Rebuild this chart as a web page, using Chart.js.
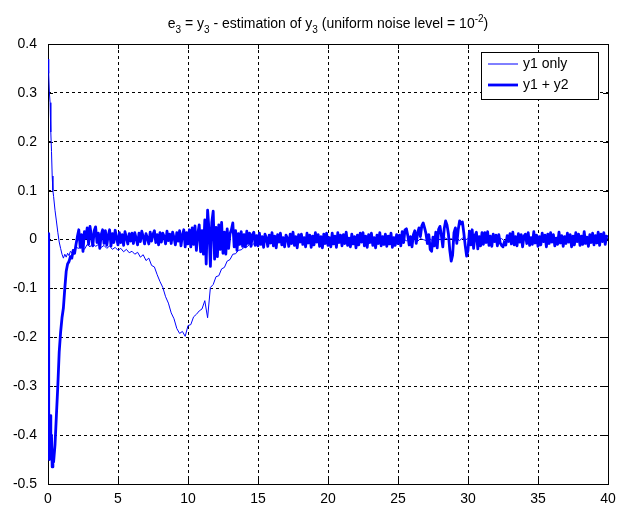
<!DOCTYPE html>
<html>
<head>
<meta charset="utf-8">
<title>e3 estimation error</title>
<script src="https://cdn.jsdelivr.net/npm/chart.js@4.4.1/dist/chart.umd.min.js"></script>
<style>
  html, body { margin: 0; padding: 0; background: #fff; }
  canvas { display: block; }
</style>
</head>
<body>
<canvas id="e3-chart" width="624" height="510"></canvas>
<script>
// sample times of the y1-only run (fine near the start, then every 0.2)
const xThin = [
    0, 0.05, 0.1, 0.15, 0.2, 0.25, 0.3, 0.35, 0.4,
    0.5, 0.6, 0.7, 0.8, 0.9, 1, 1.1, 1.2, 1.3, 1.4, 1.5, 1.6, 1.7, 1.8, 1.9, 2,
    2.2, 2.4, 2.6, 2.8, 3,
    3.2, 3.4, 3.6, 3.8, 4,
    4.2, 4.4, 4.6, 4.8, 5,
    5.2, 5.4, 5.6, 5.8, 6,
    6.2, 6.4, 6.6, 6.8, 7,
    7.2, 7.4, 7.6, 7.8, 8,
    8.2, 8.4, 8.6, 8.8, 9,
    9.2, 9.4, 9.6, 9.8, 10,
    10.2, 10.4, 10.6, 10.8, 11,
    11.2, 11.4, 11.6, 11.8, 12,
    12.2, 12.4, 12.6, 12.8, 13,
    13.2, 13.4, 13.6, 13.8, 14,
    14.2, 14.4, 14.6, 14.8, 15,
    15.2, 15.4, 15.6, 15.8, 16,
    16.2, 16.4, 16.6, 16.8, 17,
    17.2, 17.4, 17.6, 17.8, 18,
    18.2, 18.4, 18.6, 18.8, 19,
    19.2, 19.4, 19.6, 19.8, 20,
    20.2, 20.4, 20.6, 20.8, 21,
    21.2, 21.4, 21.6, 21.8, 22,
    22.2, 22.4, 22.6, 22.8, 23,
    23.2, 23.4, 23.6, 23.8, 24,
    24.2, 24.4, 24.6, 24.8, 25,
    25.2, 25.4, 25.6, 25.8, 26,
    26.2, 26.4, 26.6, 26.8, 27,
    27.2, 27.4, 27.6, 27.8, 28,
    28.2, 28.4, 28.6, 28.8, 29,
    29.2, 29.4, 29.6, 29.8, 30,
    30.2, 30.4, 30.6, 30.8, 31,
    31.2, 31.4, 31.6, 31.8, 32,
    32.2, 32.4, 32.6, 32.8, 33,
    33.2, 33.4, 33.6, 33.8, 34,
    34.2, 34.4, 34.6, 34.8, 35,
    35.2, 35.4, 35.6, 35.8, 36,
    36.2, 36.4, 36.6, 36.8, 37,
    37.2, 37.4, 37.6, 37.8, 38,
    38.2, 38.4, 38.6, 38.8, 39,
    39.2, 39.4, 39.6, 39.8, 40
];

// e3 with y1 only (thin line)
const y1Only = [
    0.369, 0.34, 0.3, 0.28, 0.22, 0.18, 0.13, 0.1, 0.088,
    0.06, 0.038, 0.015, -0.005, -0.018, -0.03, -0.038, -0.03, -0.036, -0.028, -0.033, -0.024, -0.027, -0.02, -0.024, -0.016,
    -0.018, -0.012, -0.02, -0.01, -0.015,
    -0.008, -0.014, -0.01, -0.016, -0.012,
    -0.018, -0.013, -0.02, -0.016, -0.022,
    -0.018, -0.025, -0.02, -0.027, -0.024,
    -0.03, -0.026, -0.036, -0.031, -0.043,
    -0.038, -0.053, -0.056, -0.072, -0.086,
    -0.098, -0.117, -0.13, -0.15, -0.162,
    -0.182, -0.192, -0.188, -0.198, -0.176,
    -0.174, -0.158, -0.153, -0.146, -0.142,
    -0.125, -0.16, -0.098, -0.092, -0.076,
    -0.074, -0.06, -0.057, -0.044, -0.041,
    -0.03, -0.029, -0.022, -0.021, -0.016,
    -0.015, -0.01, -0.011, -0.006, -0.007,
    -0.005, -0.002, -0.006, -0.001, -0.004,
    0, -0.003, -0.001, -0.004, 0.001,
    -0.002, 0.001, -0.004, 0, -0.003,
    0.001, -0.003, 0.002, -0.004, -0.001,
    -0.003, 0.002, -0.002, 0.001, -0.004,
    0, -0.003, 0.002, -0.002, 0.001,
    -0.004, 0.001, -0.002, 0.002, -0.003,
    0.001, -0.002, 0.003, -0.003, 0,
    -0.002, 0.002, -0.004, 0.001, -0.001,
    0.002, -0.003, 0.001, -0.002, 0.003,
    -0.001, 0.002, -0.003, 0.003, -0.002,
    0.001, -0.004, 0.002, 0, -0.002,
    0.003, -0.001, 0.002, -0.003, 0.001,
    -0.002, 0.003, -0.001, 0.002, -0.003,
    0.001, -0.002, 0.003, -0.001, 0.002,
    -0.003, 0.001, -0.002, 0.002, -0.001,
    0.002, -0.003, 0.001, -0.002, 0.003,
    -0.001, 0.002, -0.003, 0.001, -0.002,
    0.003, -0.002, 0.001, -0.003, 0.002,
    -0.002, 0.001, -0.001, 0.003, -0.002,
    0.001, -0.003, 0.002, -0.001, 0.002,
    -0.003, 0.002, -0.002, 0.001, -0.001,
    0.002, -0.001, 0.003, -0.002, 0.001,
    -0.002, 0.003, -0.001, 0.002, -0.003,
    0.001, -0.002, 0.002, -0.001, 0.003
];

// sample times of the y1 + y2 run (fine near the start, then every 0.1)
const xThick = [
    0, 0.05, 0.1, 0.15, 0.2, 0.25, 0.3, 0.35, 0.4,
    0.5, 0.6, 0.7, 0.8, 0.9, 1, 1.1, 1.2, 1.3, 1.4, 1.5, 1.6, 1.7, 1.8, 1.9, 2,
    2.1, 2.2, 2.3, 2.4, 2.5, 2.6, 2.7, 2.8, 2.9, 3,
    3.1, 3.2, 3.3, 3.4, 3.5, 3.6, 3.7, 3.8, 3.9, 4,
    4.1, 4.2, 4.3, 4.4, 4.5, 4.6, 4.7, 4.8, 4.9, 5,
    5.1, 5.2, 5.3, 5.4, 5.5, 5.6, 5.7, 5.8, 5.9, 6,
    6.1, 6.2, 6.3, 6.4, 6.5, 6.6, 6.7, 6.8, 6.9, 7,
    7.1, 7.2, 7.3, 7.4, 7.5, 7.6, 7.7, 7.8, 7.9, 8,
    8.1, 8.2, 8.3, 8.4, 8.5, 8.6, 8.7, 8.8, 8.9, 9,
    9.1, 9.2, 9.3, 9.4, 9.5, 9.6, 9.7, 9.8, 9.9, 10,
    10.1, 10.2, 10.3, 10.4, 10.5, 10.6, 10.7, 10.8, 10.9, 11,
    11.1, 11.2, 11.3, 11.4, 11.5, 11.6, 11.7, 11.8, 11.9, 12,
    12.1, 12.2, 12.3, 12.4, 12.5, 12.6, 12.7, 12.8, 12.9, 13,
    13.1, 13.2, 13.3, 13.4, 13.5, 13.6, 13.7, 13.8, 13.9, 14,
    14.1, 14.2, 14.3, 14.4, 14.5, 14.6, 14.7, 14.8, 14.9, 15,
    15.1, 15.2, 15.3, 15.4, 15.5, 15.6, 15.7, 15.8, 15.9, 16,
    16.1, 16.2, 16.3, 16.4, 16.5, 16.6, 16.7, 16.8, 16.9, 17,
    17.1, 17.2, 17.3, 17.4, 17.5, 17.6, 17.7, 17.8, 17.9, 18,
    18.1, 18.2, 18.3, 18.4, 18.5, 18.6, 18.7, 18.8, 18.9, 19,
    19.1, 19.2, 19.3, 19.4, 19.5, 19.6, 19.7, 19.8, 19.9, 20,
    20.1, 20.2, 20.3, 20.4, 20.5, 20.6, 20.7, 20.8, 20.9, 21,
    21.1, 21.2, 21.3, 21.4, 21.5, 21.6, 21.7, 21.8, 21.9, 22,
    22.1, 22.2, 22.3, 22.4, 22.5, 22.6, 22.7, 22.8, 22.9, 23,
    23.1, 23.2, 23.3, 23.4, 23.5, 23.6, 23.7, 23.8, 23.9, 24,
    24.1, 24.2, 24.3, 24.4, 24.5, 24.6, 24.7, 24.8, 24.9, 25,
    25.1, 25.2, 25.3, 25.4, 25.5, 25.6, 25.7, 25.8, 25.9, 26,
    26.1, 26.2, 26.3, 26.4, 26.5, 26.6, 26.7, 26.8, 26.9, 27,
    27.1, 27.2, 27.3, 27.4, 27.5, 27.6, 27.7, 27.8, 27.9, 28,
    28.1, 28.2, 28.3, 28.4, 28.5, 28.6, 28.7, 28.8, 28.9, 29,
    29.1, 29.2, 29.3, 29.4, 29.5, 29.6, 29.7, 29.8, 29.9, 30,
    30.1, 30.2, 30.3, 30.4, 30.5, 30.6, 30.7, 30.8, 30.9, 31,
    31.1, 31.2, 31.3, 31.4, 31.5, 31.6, 31.7, 31.8, 31.9, 32,
    32.1, 32.2, 32.3, 32.4, 32.5, 32.6, 32.7, 32.8, 32.9, 33,
    33.1, 33.2, 33.3, 33.4, 33.5, 33.6, 33.7, 33.8, 33.9, 34,
    34.1, 34.2, 34.3, 34.4, 34.5, 34.6, 34.7, 34.8, 34.9, 35,
    35.1, 35.2, 35.3, 35.4, 35.5, 35.6, 35.7, 35.8, 35.9, 36,
    36.1, 36.2, 36.3, 36.4, 36.5, 36.6, 36.7, 36.8, 36.9, 37,
    37.1, 37.2, 37.3, 37.4, 37.5, 37.6, 37.7, 37.8, 37.9, 38,
    38.1, 38.2, 38.3, 38.4, 38.5, 38.6, 38.7, 38.8, 38.9, 39,
    39.1, 39.2, 39.3, 39.4, 39.5, 39.6, 39.7, 39.8, 39.9, 40
];

// e3 with y1 + y2 (thick line)
const y1PlusY2 = [
    0.012, -0.35, -0.45, -0.36, -0.44, -0.4, -0.465, -0.43, -0.455,
    -0.42, -0.36, -0.3, -0.23, -0.19, -0.16, -0.14, -0.1, -0.065, -0.05, -0.045, -0.035, -0.038, -0.022, -0.028, -0.01,
    0.006, 0.02, -0.016, 0.01, -0.024, 0.016, 0.003, 0.024, -0.01, 0.027,
    0.008, -0.013, 0.018, 0.026, -0.006, 0.013, -0.018, 0.01, 0.02, -0.008,
    0.018, -0.012, 0.008, 0.02, -0.013, 0.012, -0.006, 0.019, 0.003, -0.011,
    0.014, -0.006, 0.01, -0.012, 0.016, 0.004, -0.009, 0.012, -0.003, 0.013,
    -0.008, 0.014, 0.002, -0.011, 0.013, -0.004, 0.017, 0.006, -0.009, 0.012,
    0.003, -0.009, 0.015, -0.003, 0.011, 0.018, -0.006, 0.01, -0.011, 0.014,
    -0.005, 0.013, 0.006, -0.009, 0.017, -0.002, 0.011, -0.008, 0.015, 0.004,
    -0.011, 0.014, -0.003, 0.018, -0.013, 0.009, 0.02, -0.015, 0.014, -0.009,
    0.02, -0.015, 0.024, -0.01, 0.028, -0.022, 0.012, 0.03, -0.025, 0.018,
    -0.03, 0.04, -0.05, 0.06, 0.02, -0.055, 0.035, 0.058, -0.04, 0.025,
    -0.035, 0.03, -0.02, 0.035, -0.028, 0.015, -0.03, 0.022, -0.018, 0.012,
    0.02, 0.034, -0.015, 0.018, -0.022, 0.012, -0.01, 0.016, -0.014, 0.01,
    -0.015, 0.017, -0.008, 0.013, -0.014, 0.01, 0.015, -0.012, 0.008, -0.013,
    0.013, -0.01, 0.006, -0.016, 0.011, 0.003, -0.014, 0.009, -0.007, 0.014,
    -0.013, 0.007, -0.017, 0.01, -0.005, 0.013, -0.011, 0.004, -0.015, 0.009,
    0.003, -0.014, 0.011, -0.008, 0.015, -0.012, 0.006, -0.017, 0.01, -0.005,
    0.011, -0.01, 0.004, -0.015, 0.013, -0.007, 0.009, -0.016, 0.007, -0.011,
    0.014, -0.005, 0.01, -0.014, 0.006, -0.017, 0.011, -0.008, 0.013, -0.012,
    0.004, -0.015, 0.013, -0.009, 0.007, -0.016, 0.014, -0.006, 0.009, -0.013,
    0.01, -0.008, 0.015, -0.012, 0.003, -0.015, 0.011, -0.009, 0.006, -0.017,
    0.009, -0.011, 0.013, -0.005, 0.014, -0.013, 0.007, -0.016, 0.01, -0.006,
    0.013, -0.012, 0.004, -0.017, 0.009, -0.008, 0.014, -0.013, 0.006, -0.01,
    0.011, -0.014, 0.007, -0.009, 0.013, -0.016, 0.004, -0.012, 0.01, -0.008,
    0.009, -0.013, 0.016, -0.006, 0.02, 0.022, 0.008, -0.011, 0.006, -0.015,
    0.01, 0.018, -0.008, 0.013, 0.024, 0.006, 0.028, 0.034, 0.024, 0.012,
    -0.008, 0.01, -0.02, -0.024, 0.005, -0.013, 0.015, -0.017, 0.021, 0.027,
    0.008, -0.015, 0.022, 0.038, 0.03, 0.012, -0.022, -0.044, -0.032, 0.014,
    0.024, -0.008, 0.02, 0.038, 0.032, 0.036, 0.014, -0.012, -0.034, -0.022,
    0.017, -0.011, 0.02, -0.018, 0.008, 0.015, -0.019, 0.006, -0.013, 0.014,
    -0.01, 0.014, -0.006, 0.016, -0.012, 0.007, -0.014, 0.011, -0.004, 0.009,
    -0.013, 0.01, -0.007, -0.012, -0.015, -0.005, -0.011, 0.008, -0.004, 0.012,
    -0.009, 0.015, -0.011, 0.006, -0.013, 0.012, -0.005, 0.01, -0.015, 0.007,
    0.011, -0.008, 0.014, -0.012, 0.004, -0.01, 0.016, -0.007, 0.009, -0.014,
    0.006, -0.011, 0.013, -0.004, 0.009, -0.015, 0.011, -0.008, 0.014, -0.005,
    0.01, -0.013, 0.003, -0.01, 0.015, -0.007, 0.008, -0.014, 0.006, -0.008,
    0.013, -0.005, 0.01, -0.015, 0.007, -0.011, 0.014, -0.004, 0.011, -0.012,
    0.007, -0.01, 0.016, -0.008, 0.005, -0.014, 0.01, -0.006, 0.013, -0.011,
    0.008, -0.007, 0.015, -0.012, 0.011, -0.004, 0.014, -0.01, 0.007, 0.005
];

const seriesLabels = ['y1 only', 'y1 + y2'];
const xTicks = [0, 5, 10, 15, 20, 25, 30, 35, 40];
const yTicks = [-0.5, -0.4, -0.3, -0.2, -0.1, 0, 0.1, 0.2, 0.3, 0.4];
const yTickLabels = ['-0.5', '-0.4', '-0.3', '-0.2', '-0.1', '0', '0.1', '0.2', '0.3', '0.4'];

// title pieces: 0 = normal, 1 = subscript, 2 = superscript
const titleParts = [
    ['e', 0], ['3', 1], [' = y', 0], ['3', 1], [' - estimation of y', 0], ['3', 1],
    [' (uniform noise level = 10', 0], ['-2', 2], [')', 0]
];

const FONT = '"Liberation Sans", Arial, Helvetica, sans-serif';
const BLUE = '#0000ff';

document.addEventListener('DOMContentLoaded', function() {

    /**
     * Solid axes box with the small inward ticks (drawn under the data)
     */
    const framePlugin = {
        id: 'frame',
        beforeDatasetsDraw(chart) {
            const { ctx, chartArea: a, scales } = chart;
            ctx.save();
            ctx.strokeStyle = '#000';
            ctx.lineWidth = 1;
            ctx.strokeRect(a.left + 0.5, a.top + 0.5, a.right - a.left, a.bottom - a.top);
            ctx.beginPath();
            xTicks.forEach(v => {
                const px = Math.round(scales.x.getPixelForValue(v)) + 0.5;
                ctx.moveTo(px, a.bottom); ctx.lineTo(px, a.bottom - 5);
                ctx.moveTo(px, a.top); ctx.lineTo(px, a.top + 5);
            });
            yTicks.forEach(v => {
                const py = Math.round(scales.y.getPixelForValue(v)) + 0.5;
                ctx.moveTo(a.left, py); ctx.lineTo(a.left + 5, py);
                ctx.moveTo(a.right, py); ctx.lineTo(a.right - 5, py);
            });
            ctx.stroke();
            ctx.restore();
        }
    };

    /**
     * Title with sub/superscripts
     */
    const titlePlugin = {
        id: 'mathTitle',
        afterDraw(chart) {
            const { ctx, chartArea: a } = chart;
            const big = '14px ' + FONT;
            const small = '10px ' + FONT;
            ctx.save();
            let total = 0;
            titleParts.forEach(p => {
                ctx.font = p[1] ? small : big;
                total += ctx.measureText(p[0]).width;
            });
            let x = (a.left + a.right) / 2 - total / 2;
            const base = a.top - 16;
            ctx.fillStyle = '#000';
            ctx.textBaseline = 'alphabetic';
            ctx.textAlign = 'left';
            titleParts.forEach(p => {
                ctx.font = p[1] ? small : big;
                const dy = p[1] === 1 ? 5 : (p[1] === 2 ? -6 : 0);
                ctx.fillText(p[0], x, base + dy);
                x += ctx.measureText(p[0]).width;
            });
            ctx.restore();
        }
    };

    /**
     * MATLAB style legend box in the top right corner
     */
    const legendPlugin = {
        id: 'boxLegend',
        afterDraw(chart) {
            const { ctx, chartArea: a } = chart;
            const w = 117, h = 47;
            const left = a.right - 10 - w;
            const top = a.top + 8;
            ctx.save();
            ctx.fillStyle = '#fff';
            ctx.fillRect(left, top, w, h);
            ctx.strokeStyle = '#000';
            ctx.lineWidth = 1;
            ctx.strokeRect(left + 0.5, top + 0.5, w, h);
            ctx.font = '14px ' + FONT;
            ctx.textBaseline = 'middle';
            ctx.fillStyle = '#000';
            chart.data.datasets.forEach((ds, i) => {
                const y = top + 12 + i * 21;
                ctx.strokeStyle = ds.borderColor;
                ctx.lineWidth = ds.borderWidth;
                ctx.beginPath();
                ctx.moveTo(left + 7, y);
                ctx.lineTo(left + 37, y);
                ctx.stroke();
                ctx.fillText(ds.label, left + 42, y);
            });
            ctx.restore();
        }
    };

    function toPoints(xs, values) {
        return values.map((v, i) => ({ x: xs[i], y: v }));
    }

    function axisOptions(ticks, extra) {
        return Object.assign({
            type: 'linear',
            afterBuildTicks: s => { s.ticks = ticks.map(v => ({ value: v })); },
            grid: { color: '#000', lineWidth: 1, drawTicks: false },
            border: { display: false, dash: [3, 3] }
        }, extra);
    }

    new Chart(document.getElementById('e3-chart'), {
        type: 'line',
        data: {
            datasets: [{
                label: seriesLabels[0],
                data: toPoints(xThin, y1Only),
                borderColor: BLUE,
                borderWidth: 1,
                borderJoinStyle: 'round',
                pointRadius: 0,
                tension: 0,
                order: 2
            }, {
                label: seriesLabels[1],
                data: toPoints(xThick, y1PlusY2),
                borderColor: BLUE,
                borderWidth: 2.8,
                borderJoinStyle: 'round',
                pointRadius: 0,
                tension: 0,
                order: 1
            }]
        },
        options: {
            responsive: false,
            animation: false,
            devicePixelRatio: 1,
            layout: { padding: { top: 44, right: 16, left: 0, bottom: 0 } },
            plugins: {
                legend: { display: false },
                tooltip: { enabled: false },
                title: { display: false }
            },
            scales: {
                x: axisOptions(xTicks, {
                    min: 0,
                    max: 40,
                    afterFit: s => { s.height = 26; },
                    ticks: {
                        color: '#000',
                        font: { family: FONT, size: 14 },
                        padding: 7,
                        maxRotation: 0
                    }
                }),
                y: axisOptions(yTicks, {
                    min: -0.5,
                    max: 0.4,
                    afterFit: s => { s.width = 48; },
                    ticks: {
                        color: '#000',
                        font: { family: FONT, size: 14 },
                        padding: 11,
                        callback: (v, i) => yTickLabels[i]
                    }
                })
            }
        },
        plugins: [framePlugin, titlePlugin, legendPlugin]
    });
});
</script>
</body>
</html>
